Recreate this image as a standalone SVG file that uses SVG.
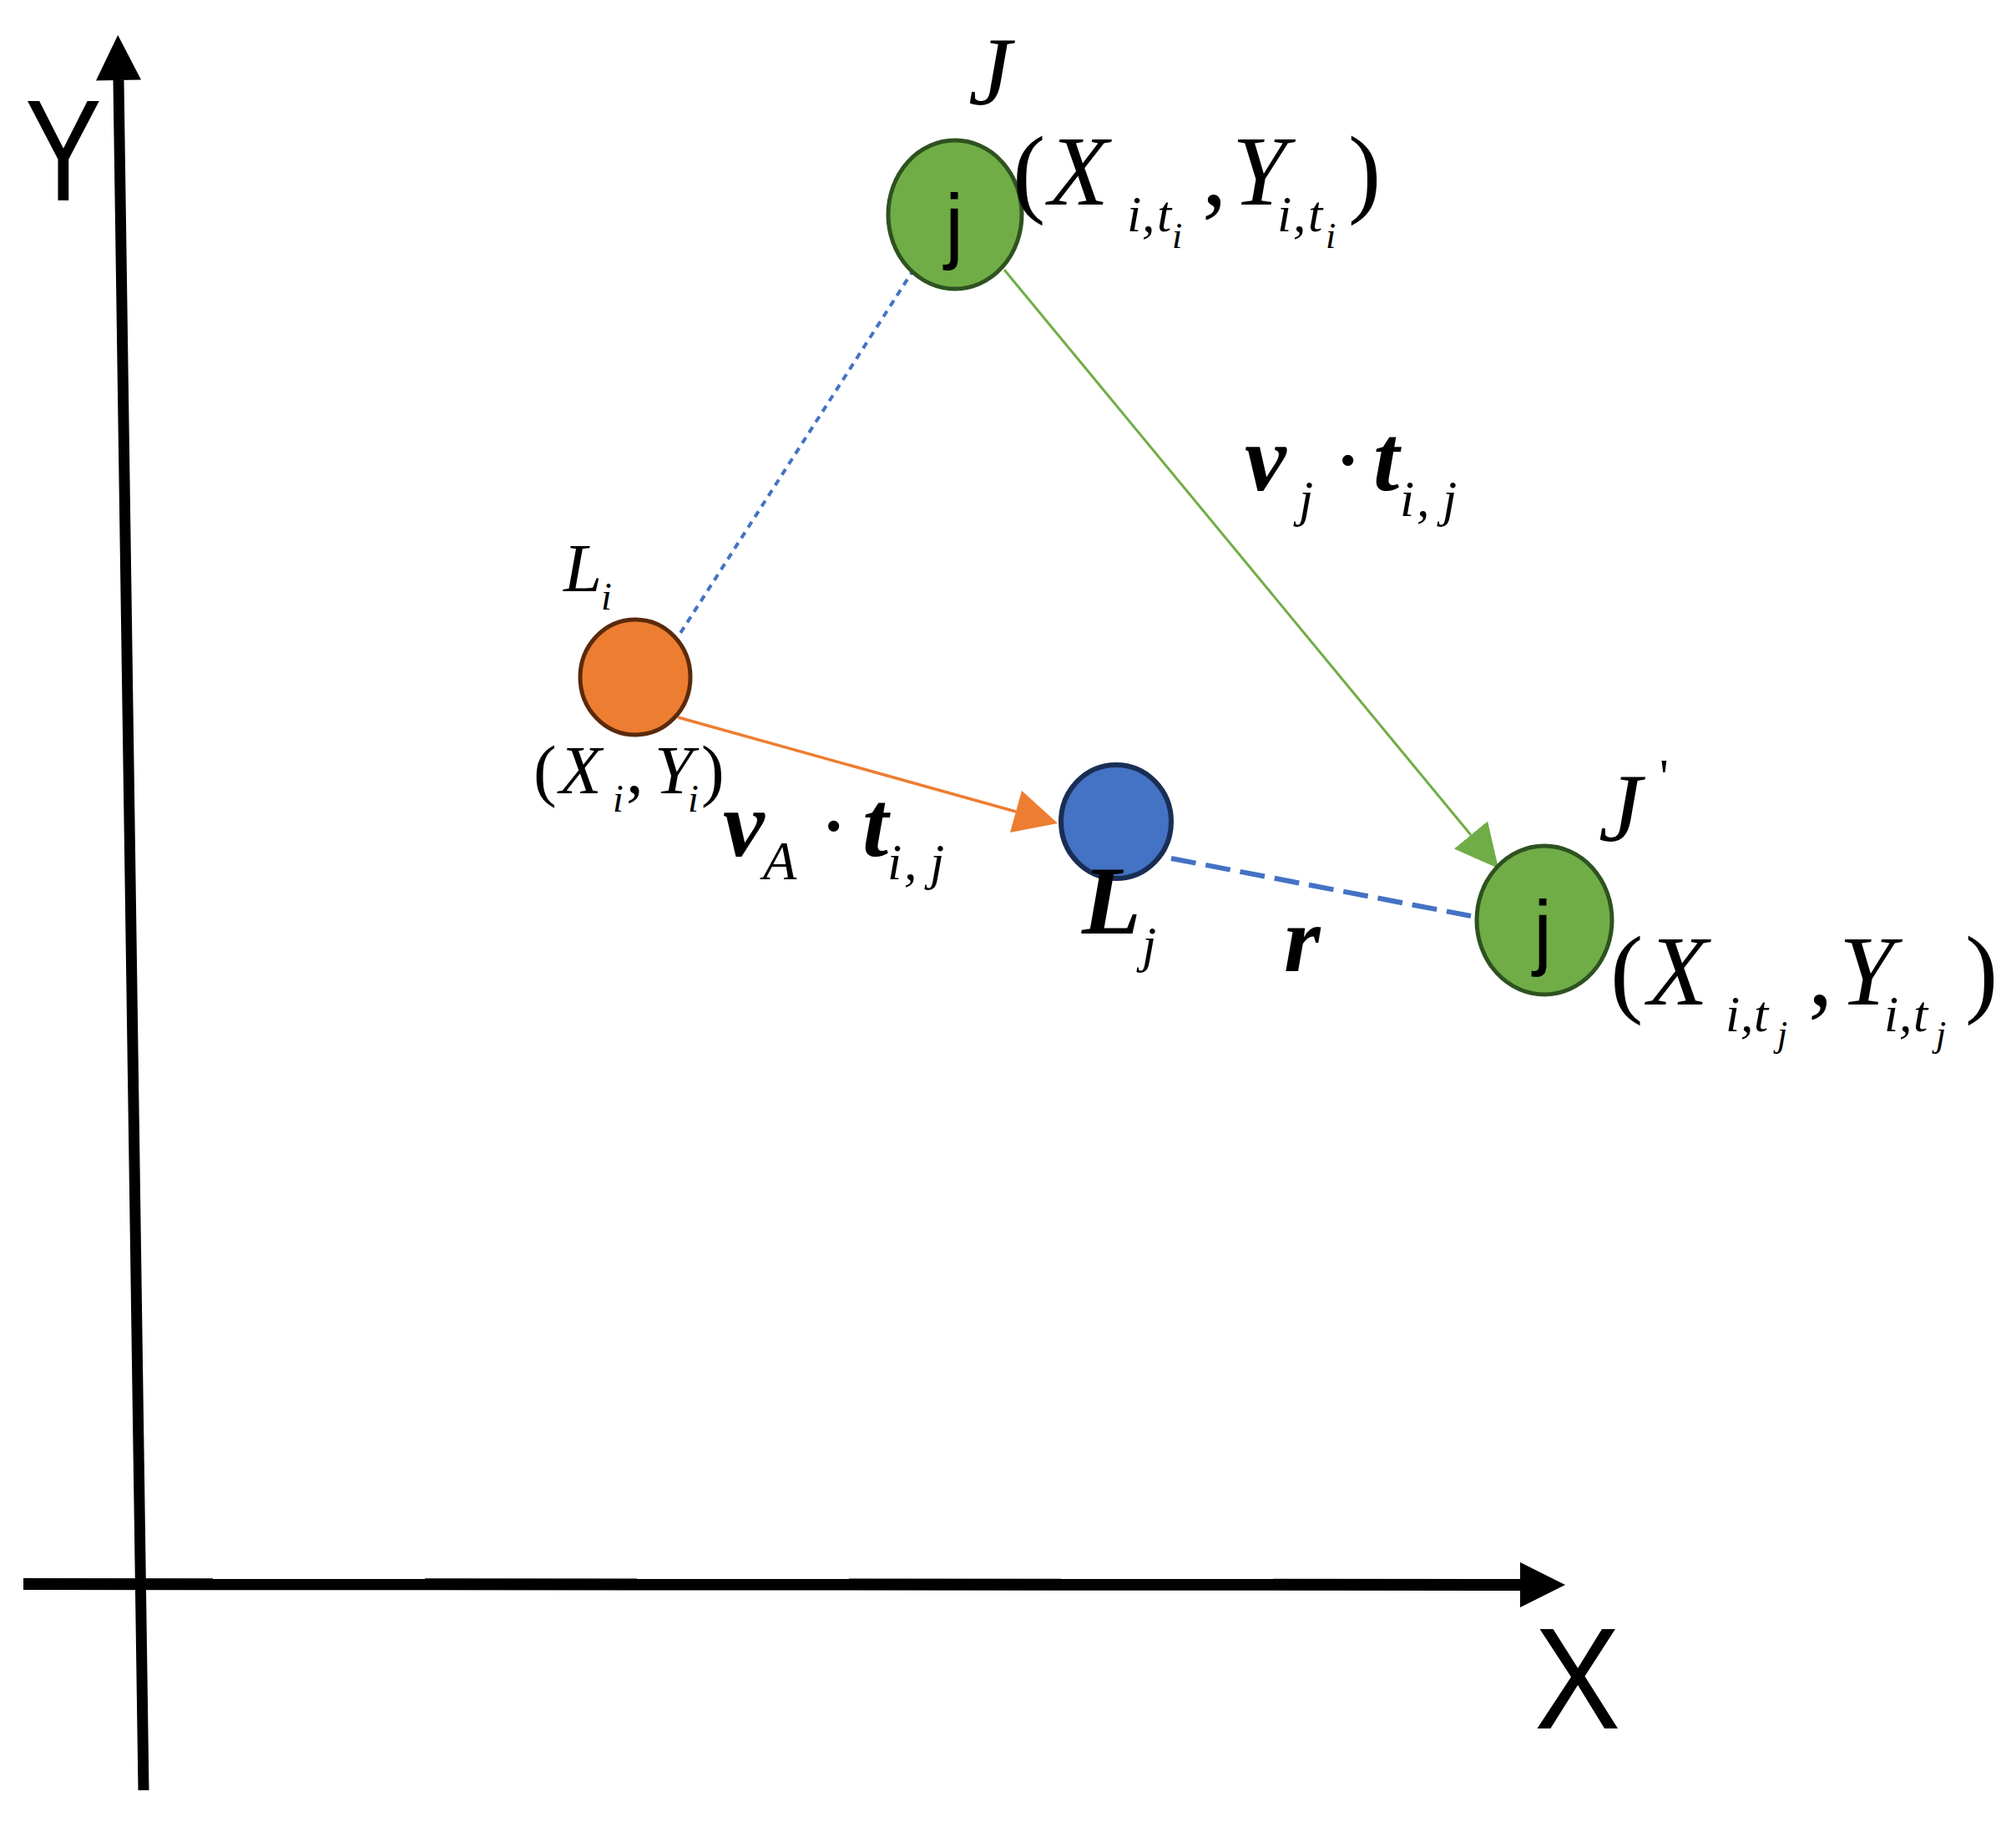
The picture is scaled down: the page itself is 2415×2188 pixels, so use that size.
<svg xmlns="http://www.w3.org/2000/svg" width="2415" height="2188" viewBox="0 0 2415 2188">
<style>
.m{font-family:"Liberation Serif","Times New Roman",serif;font-style:italic;fill:#000}
.b{font-weight:bold}
.u{font-style:normal}
.s{font-family:"Liberation Sans",Arial,sans-serif;fill:#000}
.green{fill:#70AD47;stroke:#2E5220;stroke-width:5}
.orange{fill:#ED7D31;stroke:#5A2A0A;stroke-width:5}
.blue{fill:#4472C4;stroke:#1A2E55;stroke-width:6}
</style>
<defs>
<marker id="ak" viewBox="0 0 10 10" refX="0" refY="5" markerUnits="userSpaceOnUse" markerWidth="55" markerHeight="54" orient="auto"><path d="M0,0 L10,5 L0,10 z" fill="#000"/></marker>
<marker id="ag" viewBox="0 0 10 10" refX="0" refY="5" markerUnits="userSpaceOnUse" markerWidth="52" markerHeight="54" orient="auto"><path d="M0,0 L10,5 L0,10 z" fill="#70AD47"/></marker>
<marker id="ao" viewBox="0 0 10 10" refX="0" refY="5" markerUnits="userSpaceOnUse" markerWidth="55" markerHeight="52" orient="auto"><path d="M0,0 L10,5 L0,10 z" fill="#ED7D31"/></marker>
</defs>

<g id="axes">
<line x1="172" y1="2144" x2="142" y2="96" stroke="#000" stroke-width="13" marker-end="url(#ak)"/>
<line x1="28" y1="1897" x2="1821" y2="1898" stroke="#000" stroke-width="14" marker-end="url(#ak)"/>
<text class="s" x="0" y="0" font-size="172" transform="translate(30,240) scale(0.8,1)">Y</text>
<text class="s" x="0" y="0" font-size="172" transform="translate(1838,2070) scale(0.9,1)">X</text>
</g>

<g id="connectors">
<line x1="1095" y1="322" x2="810" y2="766" stroke="#4472C4" stroke-width="4" stroke-dasharray="8 7"/>
<line x1="1203" y1="323" x2="1762" y2="1000" stroke="#70AD47" stroke-width="3" marker-end="url(#ag)"/>
<line x1="812" y1="859" x2="1217" y2="972" stroke="#ED7D31" stroke-width="3.5" marker-end="url(#ao)"/>
<line x1="1403" y1="1028" x2="1762" y2="1097" stroke="#4472C4" stroke-width="6" stroke-dasharray="30 12"/>
</g>

<g id="node-J">
<ellipse class="green" cx="1144" cy="257" rx="80" ry="89"/>
<text class="s" x="1143" y="303" font-size="100" text-anchor="middle">j</text>
<text class="m" x="1160" y="125" font-size="116">J</text>
<text class="m" font-size="118"><tspan class="u" x="1213" y="245">(</tspan><tspan x="1256" y="245">X</tspan><tspan x="1350" y="277" font-size="62">i</tspan><tspan x="1368" y="277" font-size="62">,</tspan><tspan x="1386" y="277" font-size="62">t</tspan><tspan x="1404" y="297" font-size="44">i</tspan><tspan class="u" x="1440" y="245">,</tspan><tspan x="1476" y="245">Y</tspan><tspan x="1530" y="277" font-size="62">i</tspan><tspan x="1549" y="277" font-size="62">,</tspan><tspan x="1567" y="277" font-size="62">t</tspan><tspan x="1588" y="297" font-size="44">i</tspan><tspan class="u" x="1615" y="245">)</tspan></text>
</g>

<g id="node-Li">
<ellipse class="orange" cx="761" cy="811" rx="66" ry="69"/>
<text class="m" font-size="83"><tspan x="675" y="708">L</tspan><tspan x="720" y="730" font-size="46">i</tspan></text>
<text class="m" font-size="83"><tspan class="u" x="639" y="950">(</tspan><tspan x="670" y="950">X</tspan><tspan x="734" y="972" font-size="46">i</tspan><tspan class="u" x="750" y="950">,</tspan><tspan x="784" y="950">Y</tspan><tspan x="824" y="972" font-size="46">i</tspan><tspan class="u" x="840" y="950">)</tspan></text>
</g>

<g id="node-Lj">
<ellipse class="blue" cx="1337" cy="984" rx="66" ry="68"/>
<text class="m" font-size="116"><tspan class="b" x="1296" y="1118">L</tspan><tspan x="1368" y="1152" font-size="62">j</tspan></text>
</g>

<g id="node-Jprime">
<ellipse class="green" cx="1850" cy="1102" rx="81" ry="89"/>
<text class="s" x="1848" y="1149" font-size="100" text-anchor="middle">j</text>
<text class="m" font-size="116"><tspan x="1915" y="1007">J</tspan><tspan class="u" x="1988" y="950" font-size="60">'</tspan></text>
<text class="m" font-size="118"><tspan class="u" x="1929" y="1203">(</tspan><tspan x="1974" y="1203">X</tspan><tspan x="2067" y="1235" font-size="62">i</tspan><tspan x="2085" y="1235" font-size="62">,</tspan><tspan x="2101" y="1235" font-size="62">t</tspan><tspan x="2129" y="1253" font-size="44">j</tspan><tspan class="u" x="2166" y="1203">,</tspan><tspan x="2203" y="1203">Y</tspan><tspan x="2257" y="1235" font-size="62">i</tspan><tspan x="2275" y="1235" font-size="62">,</tspan><tspan x="2292" y="1235" font-size="62">t</tspan><tspan x="2319" y="1253" font-size="44">j</tspan><tspan class="u" x="2354" y="1203">)</tspan></text>
</g>

<g id="labels">
<text class="m" font-size="112"><tspan class="b" x="866" y="1025">v</tspan><tspan x="914" y="1053" font-size="66">A</tspan><tspan class="u" x="980" y="1027">·</tspan><tspan class="b" x="1033" y="1025">t</tspan><tspan x="1063" y="1053" font-size="62">i</tspan><tspan x="1083" y="1053" font-size="62">,</tspan><tspan x="1114" y="1053" font-size="62">j</tspan></text>
<text class="m" font-size="112"><tspan class="b" x="1491" y="587">v</tspan><tspan x="1556" y="618" font-size="62">j</tspan><tspan class="u" x="1596" y="589">·</tspan><tspan class="b" x="1645" y="587">t</tspan><tspan x="1677" y="618" font-size="62">i</tspan><tspan x="1697" y="618" font-size="62">,</tspan><tspan x="1728" y="618" font-size="62">j</tspan></text>
<text class="m b" x="1538" y="1163" font-size="112">r</text>
</g>
</svg>
